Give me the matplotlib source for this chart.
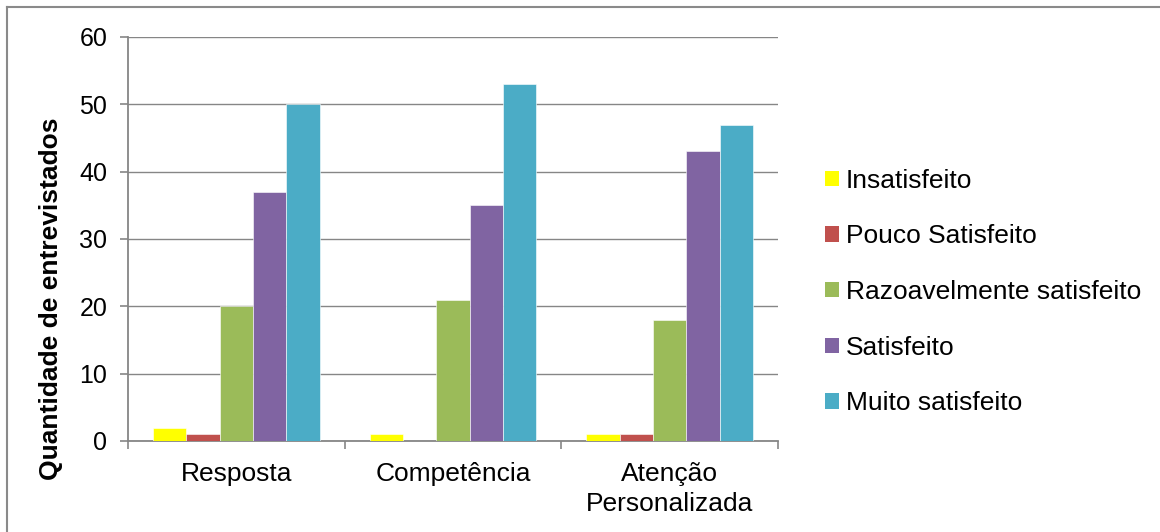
import matplotlib
matplotlib.use("Agg")
import matplotlib.pyplot as plt
import numpy as np
from matplotlib.patches import Patch
from matplotlib.lines import Line2D

categories = ["Resposta", "Competência", "Atenção\nPersonalizada"]
series_names = ["Insatisfeito", "Pouco Satisfeito", "Razoavelmente satisfeito",
                "Satisfeito", "Muito satisfeito"]
insatisfeito = [2, 1, 1]
pouco_satisfeito = [1, 0, 1]
razoavelmente = [20, 21, 18]
satisfeito = [37, 35, 43]
muito_satisfeito = [50, 53, 47]
yticks = [0, 10, 20, 30, 40, 50, 60]
ylabel = "Quantidade de entrevistados"

values = [insatisfeito, pouco_satisfeito, razoavelmente, satisfeito, muito_satisfeito]
colors = ["#FFFF00", "#C0504D", "#9BBB59", "#8064A2", "#4BACC6"]

plt.rcParams['font.family'] = ['Liberation Sans', 'DejaVu Sans']
fig = plt.figure(figsize=(11.6, 5.32), dpi=100)
ax = fig.add_axes([128/1160, 1-441/532, (778-128)/1160, (441-37)/532])

n = len(series_names)
bw = 1/(n+1.5)
x = np.arange(len(categories))
for i, (vals, c) in enumerate(zip(values, colors)):
    ax.bar(x + (i - (n-1)/2)*bw, vals, width=bw, color=c, edgecolor='white',
           linewidth=0.4, zorder=3)

grid_c = "#868686"
ax.set_ylim(0, 60)
ax.set_xlim(-0.5, len(categories)-0.5)
ax.set_yticks(yticks)
ax.yaxis.grid(True, color=grid_c, linewidth=1.0, zorder=0)
ax.set_xticks(x)
ax.set_xticklabels(categories, fontsize=19, linespacing=1.35, va='top')
ax.set_xticks(np.arange(len(categories)+1)-0.5, minor=True)
ax.tick_params(axis='x', which='major', length=0, pad=15)
ax.tick_params(axis='x', which='minor', length=6, color=grid_c, width=1.2, direction='out')
ax.tick_params(axis='y', length=6, color=grid_c, width=1.2, labelsize=18, pad=9)
for s in ['top', 'right']:
    ax.spines[s].set_visible(False)
for s in ['left', 'bottom']:
    ax.spines[s].set_color(grid_c)
    ax.spines[s].set_linewidth(1.3)

fig.text(51/1160, 1-299/532, ylabel, rotation=90, fontsize=19, fontweight='bold',
         ha='center', va='center')

handles = [Patch(facecolor=c, edgecolor='none') for c in colors]
fig.legend(handles, series_names, loc='center left', bbox_to_anchor=(825/1160, 1-292/532),
           frameon=False, fontsize=19, borderpad=0, borderaxespad=0,
           handlelength=0.52, handleheight=0.52, handletextpad=0.27, labelspacing=1.2)

# outer chart border (top and left visible)
fig.add_artist(Line2D([7/1160, 1], [1-7/532, 1-7/532], color="#8a8a8a", linewidth=1.5))
fig.add_artist(Line2D([7/1160, 7/1160], [0, 1-7/532], color="#8a8a8a", linewidth=1.5))

fig.savefig("out.png", dpi=100)
